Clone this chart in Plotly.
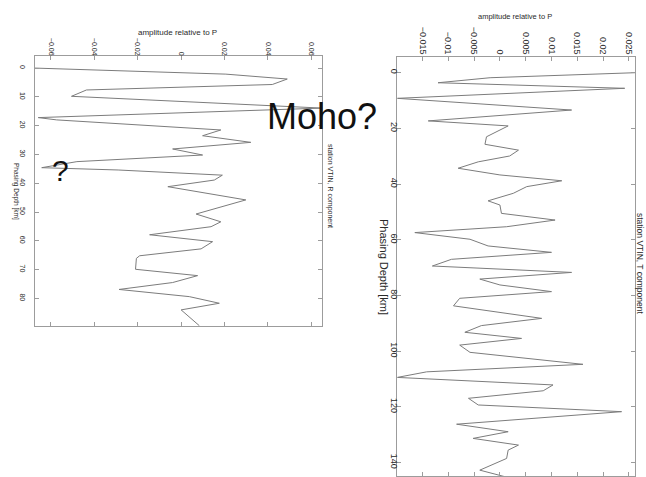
import plotly.graph_objects as go

# ---- data: R component (left panel) ----
depth_R = [0, 2.1, 3.8, 5.7, 7.6, 9.8, 13.9, 17.2, 18.0, 21.5, 23.5, 25.8, 28.1, 30.2,
           32.5, 34.6, 35.4, 37.2, 38.9, 41.2, 45.8, 50.7, 53.4, 55.1, 57.9, 60.3, 62.8,
           65.2, 66.1, 69.9, 72.1, 74.5, 76.9, 79.4, 81.7, 84.0, 89.5]
amp_R = [-0.0673, 0.0206, 0.0489, 0.042, -0.0436, -0.0505, 0.0649, -0.0658, -0.0573,
         0.0183, 0.0099, 0.0321, -0.0039, 0.0099, -0.048, -0.0642, -0.029, 0.019, 0.0153,
         -0.0061, 0.0298, 0.0069, 0.0183, 0.0138, -0.0145, 0.0145, 0.0092, -0.0191,
         -0.0206, -0.021, 0.0076, -0.0039, -0.0286, 0.0038, 0.0176, 0.0, 0.0084]

# ---- data: T component (right panel) ----
depth_T = [0.0, 1.8, 3.6, 5.6, 9.2, 13.4, 17.3, 19.1, 23.0, 25.7, 27.8, 29.9, 32.0, 34.3,
           36.7, 38.8, 40.9, 43.3, 46.0, 47.5, 50.5, 52.9, 55.3, 57.4, 59.8, 62.2, 64.5,
           67.0, 69.4, 71.7, 74.1, 76.2, 78.6, 81.0, 83.7, 88.2, 90.8, 93.2, 95.4, 97.8,
           100.4, 104.7, 107.4, 109.4, 112.1, 114.2, 116.9, 119.3, 121.7, 126.2, 128.9,
           131.3, 133.7, 135.5, 138.5, 142.7, 145.5]
amp_T = [0.0262, -0.0019, -0.012, 0.0242, -0.0199, 0.0139, -0.0139, 0.0016, -0.0026,
         -0.0029, 0.0036, 0.0019, -0.0042, -0.0081, 0.0, 0.012, 0.0052, 0.0026, -0.0023,
         0.0, 0.0003, 0.0107, 0.0013, -0.0165, -0.0058, -0.0023, 0.0100, -0.0094, -0.0131,
         0.0139, -0.0039, 0.0, 0.0100, -0.0078, -0.0090, 0.0081, -0.0036, -0.0068, 0.0042,
         -0.0078, -0.0058, 0.0161, -0.0142, -0.0199, 0.0103, 0.0084, -0.0061, -0.0042,
         0.0236, -0.0084, 0.0016, -0.0052, 0.0036, 0.0016, 0.0013, -0.0039, 0.0019]

# ---- tick labels ----
ampR_ticks = [-0.06, -0.04, -0.02, 0, 0.02, 0.04, 0.06]
ampR_labels = ["\u22120.06", "\u22120.04", "\u22120.02", "0", "0.02", "0.04", "0.06"]
depthR_ticks = [0, 10, 20, 30, 40, 50, 60, 70, 80]
ampT_ticks = [-0.015, -0.01, -0.005, 0, 0.005, 0.01, 0.015, 0.02, 0.025]
ampT_labels = ["\u22120.015", "\u22120.01", "\u22120.005", "0", "0.005", "0.01", "0.015", "0.02", "0.025"]
depthT_ticks = [0, 20, 40, 60, 80, 100, 120, 140]

W, H = 646, 477
LINE = "#7c7c7c"
BOX = "#9c9c9c"
TXT = "#2a2a2a"
FONT = "Liberation Sans"

fig = go.Figure()
fig.add_trace(go.Scatter(x=amp_R, y=depth_R, mode="lines", xaxis="x", yaxis="y",
                         line=dict(color=LINE, width=1), hoverinfo="skip"))
fig.add_trace(go.Scatter(x=amp_T, y=depth_T, mode="lines", xaxis="x2", yaxis="y2",
                         line=dict(color=LINE, width=1), hoverinfo="skip"))

def ax(**kw):
    d = dict(showgrid=False, zeroline=False, showline=True, linecolor=BOX, linewidth=1,
             ticks="inside", ticklen=4, tickcolor=BOX, mirror="ticks", tickangle=90)
    d.update(kw)
    return d

fig.update_layout(
    width=W, height=H, margin=dict(l=0, r=0, t=0, b=0),
    paper_bgcolor="white", plot_bgcolor="white", showlegend=False,
    xaxis=ax(domain=[35 / W, 322 / W], range=[-0.0673, 0.0649], side="top", anchor="y",
             tickvals=ampR_ticks, ticktext=ampR_labels,
             tickfont=dict(size=7, color=TXT, family=FONT), ticklabelstandoff=-3),
    yaxis=ax(domain=[1 - 326 / H, 1 - 56 / H], range=[89.6, -4.2], anchor="x",
             tickvals=depthR_ticks, tickfont=dict(size=7, color=TXT, family=FONT),
             ticklabelstandoff=6),
    xaxis2=ax(domain=[397.3 / W, 635 / W], range=[-0.0199, 0.0262], side="top", anchor="y2",
              tickvals=ampT_ticks, ticktext=ampT_labels,
              tickfont=dict(size=9, color=TXT, family=FONT), ticklabelstandoff=-2),
    yaxis2=ax(domain=[1 - 476 / H, 1 - 56.7 / H], range=[144.8, -5.75], anchor="x2",
              tickvals=depthT_ticks, tickfont=dict(size=9, color=TXT, family=FONT),
              ticklabelstandoff=-6),
)

def note(text, px, py, size, angle=0, color=TXT):
    fig.add_annotation(text=text, x=px / W, y=1 - py / H, xref="paper", yref="paper",
                       xanchor="center", yanchor="middle", showarrow=False, textangle=angle,
                       font=dict(size=size, color=color, family=FONT))

note("amplitude relative to P", 177, 33, 8)
note("Phasing Depth [km]", 16, 191, 6.5, 90)
note("station VTIN, R component", 330, 186, 7, 90)
note("amplitude relative to P", 515, 17, 7.5)
note("Phasing Depth [km]", 384, 267, 11, 90)
note("station VTIN, T component", 640, 263, 8.5, 90)
note("Moho?", 322, 116, 36, color="#111111")
note("?", 60, 171, 30, color="#111111")

fig.write_html("out.html", config={"displayModeBar": False},
               post_script="document.body.style.margin='0';")
